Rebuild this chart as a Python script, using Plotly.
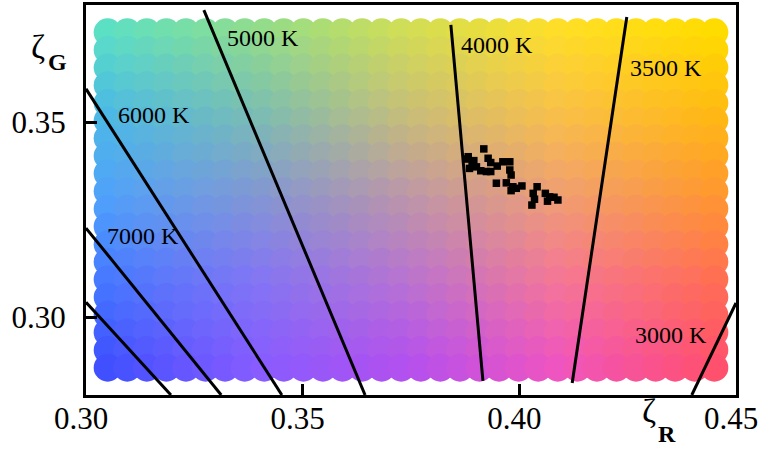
import numpy as np
import plotly.graph_objects as go

# ---- measured chromaticity points (zeta_R, zeta_G) ----
pts_r = [0.3918, 0.3882, 0.3895, 0.3885, 0.3901, 0.3911, 0.3928, 0.3934, 0.3924, 0.3934,
         0.3949, 0.3962, 0.3978, 0.3978, 0.3981, 0.3947, 0.3970, 0.3981, 0.3993, 0.4006,
         0.3985, 0.4041, 0.4032, 0.4035, 0.4029, 0.4060, 0.4070, 0.4065, 0.4080, 0.4089,
         0.3880, 0.3891]
pts_g = [0.3431, 0.3411, 0.3401, 0.3381, 0.3385, 0.3375, 0.3407, 0.3396, 0.3373, 0.3373,
         0.3387, 0.3398, 0.3398, 0.3377, 0.3364, 0.3343, 0.3344, 0.3324, 0.3330, 0.3336,
         0.3334, 0.3334, 0.3317, 0.3302, 0.3287, 0.3317, 0.3308, 0.3297, 0.3307, 0.3300,
         0.3405, 0.3390]

# ---- isotherm lines (zeta_R pairs, zeta_G pairs) ----
iso_names = ["", "7000 K", "6000 K", "5000 K", "4000 K", "3500 K", "3000 K"]
iso_r = [[0.3000, 0.3196], [0.3000, 0.3312], [0.3000, 0.3452], [0.3272, 0.3644],
         [0.3842, 0.3916], [0.4248, 0.4122], [0.4500, 0.4398]]
iso_g = [[0.3038, 0.2800], [0.3228, 0.2800], [0.3585, 0.2800], [0.3787, 0.2800],
         [0.3749, 0.2836], [0.3769, 0.2831], [0.3036, 0.2800]]

# label anchor (left, middle) in data coords
label_r = [None, 0.30438, 0.30692, 0.33208, 0.38608, 0.42508, 0.42623]
label_g = [None, 0.32077, 0.35179, 0.37154, 0.36974, 0.36385, 0.29538]

# ---- background colour swatch grid ----
grid_r = np.linspace(0.305, 0.445, 32)
grid_g = np.linspace(0.287, 0.373, 20)

# reference colours: rows top->bottom, columns left->right
ref_colors = [
    [(92, 224, 196), (145, 220, 140), (210, 222, 85), (255, 222, 40), (255, 220, 0)],
    [(76, 185, 228), (122, 190, 178), (200, 190, 120), (250, 192, 72), (255, 185, 20)],
    [(80, 162, 250), (130, 150, 212), (188, 150, 168), (240, 158, 115), (255, 150, 50)],
    [(70, 120, 255), (130, 117, 244), (185, 115, 208), (245, 118, 150), (255, 110, 85)],
    [(64, 80, 255), (135, 92, 255), (180, 80, 238), (240, 85, 190), (255, 80, 110)],
]

ref = np.array(ref_colors, dtype=float)  # [row(top..bottom), col, 3]


def colour_at(fx, fy):
    # fx: 0..1 left->right, fy: 0..1 bottom->top
    cx = fx * 4
    ry = (1 - fy) * 4
    i0 = int(min(np.floor(cx), 3))
    j0 = int(min(np.floor(ry), 3))
    tx = cx - i0
    ty = ry - j0
    c = (ref[j0, i0] * (1 - tx) * (1 - ty) + ref[j0, i0 + 1] * tx * (1 - ty)
         + ref[j0 + 1, i0] * (1 - tx) * ty + ref[j0 + 1, i0 + 1] * tx * ty)
    c = np.clip(c, 0, 255)
    return "rgb(%d,%d,%d)" % tuple(int(round(v)) for v in c)


bx, by, bc = [], [], []
for j in range(len(grid_g) - 1, -1, -1):
    for i in range(len(grid_r)):
        bx.append(grid_r[i])
        by.append(grid_g[j])
        bc.append(colour_at(i / (len(grid_r) - 1), j / (len(grid_g) - 1)))

fig = go.Figure()
fig.add_trace(go.Scatter(
    x=bx, y=by, mode="markers",
    marker=dict(size=28, color=bc, line=dict(width=0)),
    hoverinfo="skip", showlegend=False))

for k in range(len(iso_r)):
    fig.add_trace(go.Scatter(
        x=iso_r[k], y=iso_g[k], mode="lines",
        line=dict(color="black", width=3), showlegend=False, hoverinfo="skip"))

fig.add_trace(go.Scatter(
    x=pts_r, y=pts_g, mode="markers",
    marker=dict(symbol="square", size=7.5, color="black", line=dict(width=0)),
    showlegend=False))

SERIF = "Liberation Serif, Times New Roman, serif"
ann = []
for k in range(len(iso_names)):
    if iso_names[k]:
        ann.append(dict(x=label_r[k], y=label_g[k], xref="x", yref="y", text=iso_names[k],
                        showarrow=False, xanchor="left", yanchor="middle",
                        font=dict(family=SERIF, size=24, color="black")))

# axis titles (zeta with bold subscripts)
ann += [
    dict(x=-0.0746, y=0.894, xref="paper", yref="paper", text="ζ", showarrow=False,
         xanchor="center", yanchor="middle", font=dict(family=SERIF, size=34, color="black")),
    dict(x=-0.0438, y=0.853, xref="paper", yref="paper", text="<b>G</b>", showarrow=False,
         xanchor="center", yanchor="middle", font=dict(family=SERIF, size=24, color="black")),
    dict(x=0.8669, y=-0.0385, xref="paper", yref="paper", text="ζ", showarrow=False,
         xanchor="center", yanchor="middle", font=dict(family=SERIF, size=34, color="black")),
    dict(x=0.8938, y=-0.1010, xref="paper", yref="paper", text="<b>R</b>", showarrow=False,
         xanchor="center", yanchor="middle", font=dict(family=SERIF, size=24, color="black")),
]

axis_common = dict(showgrid=False, zeroline=False, showline=True, linecolor="black",
                   linewidth=3, mirror=True, ticks="inside", ticklen=11, tickwidth=3,
                   tickcolor="black", tickfont=dict(family=SERIF, size=31, color="black"),
                   automargin=False)

fig.update_layout(
    width=762, height=450,
    margin=dict(l=86, r=26, t=5, b=55, autoexpand=False),
    paper_bgcolor="white", plot_bgcolor="white",
    xaxis=dict(range=[0.30, 0.45], tickvals=[0.30, 0.35, 0.40, 0.45],
               ticktext=["0.30", "0.35", "0.40", "0.45"], ticklabelshift=-5,
               ticklabelstandoff=-6, **axis_common),
    yaxis=dict(range=[0.28, 0.38], tickvals=[0.30, 0.35],
               ticktext=["0.30", "0.35"], ticklabelstandoff=11, **axis_common),
    annotations=ann,
)

fig.write_html("out.html", config={"displayModeBar": False},
               post_script="document.body.style.margin='0px';document.body.style.overflow='hidden';")
